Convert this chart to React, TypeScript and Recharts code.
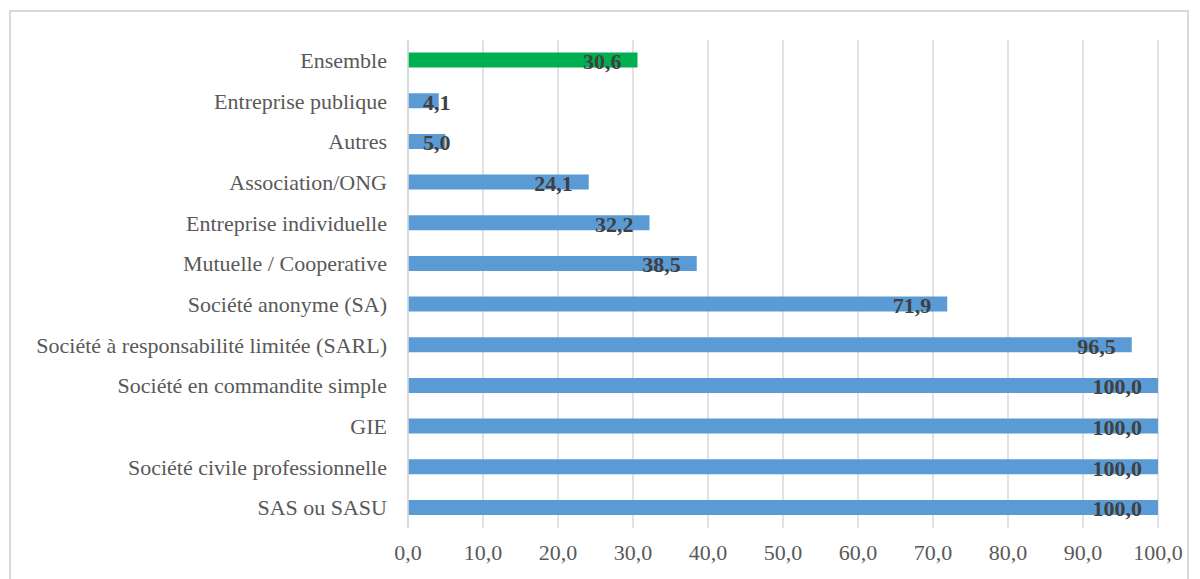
import React from 'react';
import { BarChart, Bar, XAxis, YAxis, CartesianGrid, Cell, LabelList } from 'recharts';

const categories = [
  'Ensemble',
  'Entreprise publique',
  'Autres',
  'Association/ONG',
  'Entreprise individuelle',
  'Mutuelle / Cooperative',
  'Société anonyme (SA)',
  'Société à responsabilité limitée (SARL)',
  'Société en commandite simple',
  'GIE',
  'Société civile professionnelle',
  'SAS ou SASU',
];

const values = [30.6, 4.1, 5.0, 24.1, 32.2, 38.5, 71.9, 96.5, 100.0, 100.0, 100.0, 100.0];

const xTicks = [0, 10, 20, 30, 40, 50, 60, 70, 80, 90, 100];

const data = categories.map((name, i) => ({ name, value: values[i] }));

const fmt = (v: number) => v.toFixed(1).replace('.', ',');

const FONT = '"Liberation Serif", "Times New Roman", serif';

const ValueLabel = (props: any) => {
  const { x, y, width, height, value } = props;
  const small = width < 60;
  return (
    <text
      x={small ? x + 15 : x + width - 16}
      y={y + height / 2}
      dy="0.4em"
      textAnchor={small ? 'start' : 'end'}
      fill="#404040"
      fontFamily={FONT}
      fontWeight="bold"
      fontSize={22}
    >
      {fmt(value)}
    </text>
  );
};

export default function App() {
  return (
    <div style={{ position: 'absolute', left: 0, top: 0, width: 1200, height: 579, overflow: 'hidden', background: '#fff' }}>
      <div
        style={{
          position: 'absolute',
          left: 9,
          top: 10,
          width: 1180,
          height: 620,
          border: '2px solid #d9d9d9',
          boxSizing: 'border-box',
        }}
      />
      <div style={{ position: 'absolute', left: 0, top: 0 }}>
        <BarChart
          width={1200}
          height={579}
          data={data}
          layout="vertical"
          margin={{ top: 40, right: 42, bottom: 21, left: 0 }}
          barCategoryGap="31%"
        >
          <CartesianGrid horizontal={false} stroke="#d9d9d9" strokeWidth={1.5} />
          <XAxis
            type="number"
            domain={[0, 100]}
            ticks={xTicks}
            tickFormatter={fmt}
            axisLine={false}
            tickLine={false}
            tickMargin={10}
            height={30}
            interval={0}
            tick={{ fill: '#595959', fontSize: 22, fontFamily: FONT }}
          />
          <YAxis
            type="category"
            dataKey="name"
            width={408}
            axisLine={{ stroke: '#d9d9d9', strokeWidth: 1.5 }}
            tickLine={false}
            tickSize={0}
            tickMargin={21}
            interval={0}
            tick={{ fill: '#595959', fontSize: 22, fontFamily: FONT }}
          />
          <Bar dataKey="value" isAnimationActive={false}>
            {data.map((d, i) => (
              <Cell key={d.name} fill={i === 0 ? '#00b050' : '#5b9bd5'} />
            ))}
            <LabelList dataKey="value" content={ValueLabel} />
          </Bar>
        </BarChart>
      </div>
    </div>
  );
}
